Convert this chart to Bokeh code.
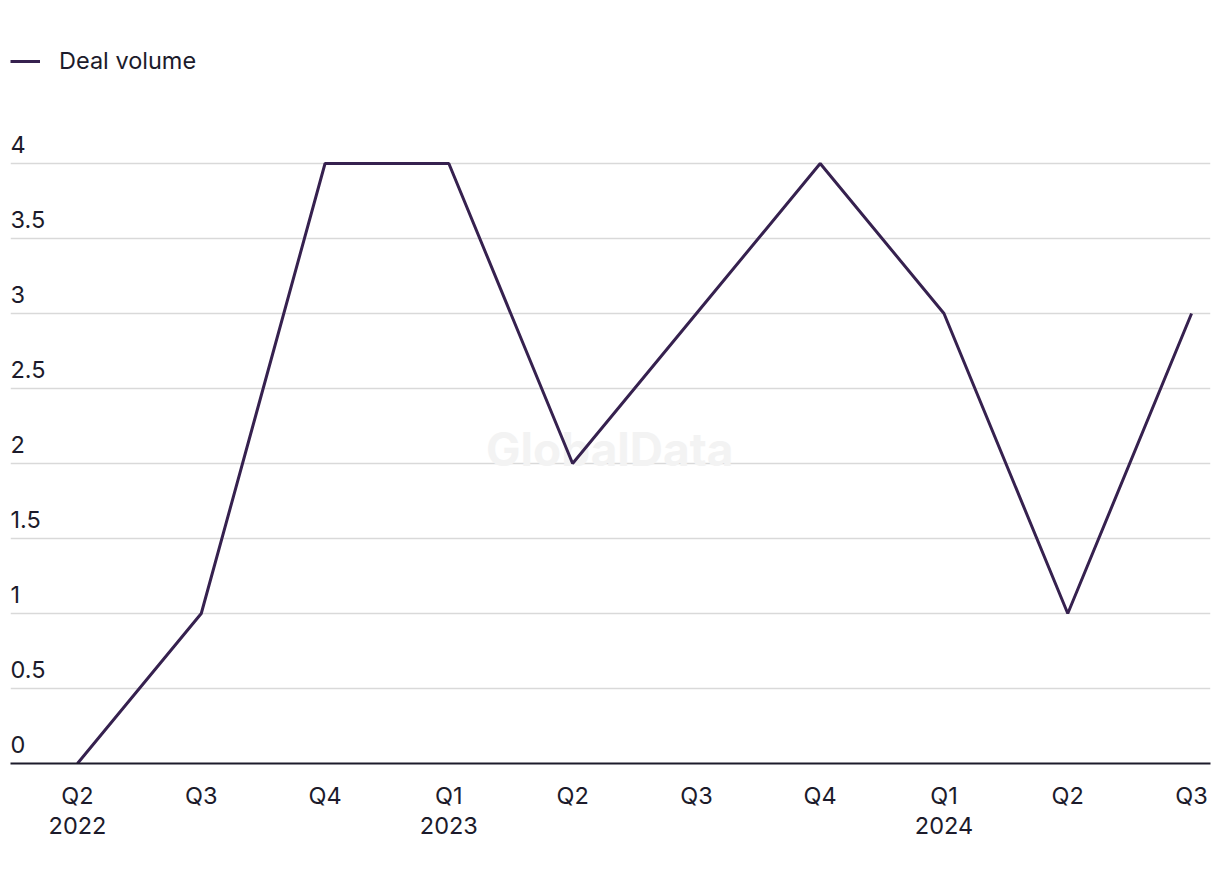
from bokeh.plotting import figure
from bokeh.models import FixedTicker, Legend, LegendItem, ColumnDataSource, Range1d
from bokeh.core.properties import value
from bokeh.embed import file_html
from bokeh.resources import INLINE

quarters = ["Q2\n2022", "Q3", "Q4", "Q1\n2023", "Q2", "Q3", "Q4", "Q1\n2024", "Q2", "Q3"]
deal_volume = [0, 1, 4, 4, 2, 3, 4, 3, 1, 3]
y_ticks = [0, 0.5, 1, 1.5, 2, 2.5, 3, 3.5, 4]
y_tick_labels = ["0", "0.5", "1", "1.5", "2", "2.5", "3", "3.5", "4"]

FONT = "Inter"
TEXT_COLOR = "#1c1b2b"
LINE_COLOR = "#36214f"

x_idx = list(range(len(quarters)))

p = figure(width=1214, height=876, output_backend="svg", toolbar_location=None,
           x_range=Range1d(-0.541, 9.153), y_range=Range1d(0, 4.78),
           min_border_left=10, min_border_right=4, min_border_top=46, min_border_bottom=113)
p.outline_line_color = None
p.background_fill_color = "white"
p.border_fill_color = "white"

# grid
p.xgrid.visible = False
p.ygrid.ticker = FixedTicker(ticks=y_ticks)
p.ygrid.grid_line_color = "#d9d9d9"
p.ygrid.grid_line_width = 1.5
p.yaxis.visible = False

# x axis
p.xaxis.ticker = FixedTicker(ticks=x_idx)
p.xaxis.major_label_overrides = {i: q for i, q in enumerate(quarters)}
p.xaxis.major_tick_line_color = None
p.xaxis.minor_tick_line_color = None
p.xaxis.major_tick_out = 0
p.xaxis.major_tick_in = 0
p.xaxis.axis_line_color = "#1c1b2b"
p.xaxis.axis_line_width = 2
p.xaxis.major_label_standoff = 17
p.xaxis.major_label_text_font = FONT
p.xaxis.major_label_text_font_size = "23.5px"
p.xaxis.major_label_text_color = TEXT_COLOR
p.xaxis.major_label_text_line_height = 1.05

# watermark
wm = ColumnDataSource(dict(x=[4.3], y=[2.1], t=["GlobalData"]))
p.text(x="x", y="y", text="t", source=wm, text_font=value(FONT), text_font_size="46px",
       text_font_style="bold", text_color="#f3f3f3", text_align="center", text_baseline="middle")

# y tick labels drawn above gridlines
ysrc = ColumnDataSource(dict(x=[-0.541] * len(y_ticks), y=y_ticks, t=y_tick_labels))
p.text(x="x", y="y", text="t", source=ysrc, text_font=value(FONT), text_font_size="23.5px",
       text_color=TEXT_COLOR, text_align="left", text_baseline="bottom", y_offset=-11, x_offset=0)

src = ColumnDataSource(dict(x=x_idx, y=deal_volume))
r = p.line(x="x", y="y", source=src, line_color=LINE_COLOR, line_width=3)

legend = Legend(items=[LegendItem(label="Deal volume", renderers=[r])], location="top_left")
legend.border_line_color = None
legend.background_fill_alpha = 0
legend.padding = 0
legend.margin = 0
legend.glyph_width = 30
legend.label_standoff = 19
legend.label_text_font = FONT
legend.label_text_font_size = "23.5px"
legend.label_text_color = TEXT_COLOR
p.add_layout(legend)

open("out.html", "w").write(file_html(p, INLINE))
